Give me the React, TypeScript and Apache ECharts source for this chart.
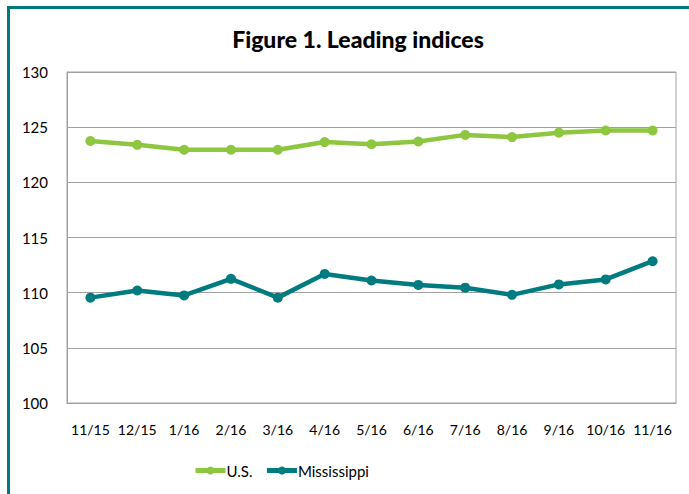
import React, { useEffect, useRef } from "react";
import * as echarts from "echarts";

const categories = ["11/15", "12/15", "1/16", "2/16", "3/16", "4/16", "5/16", "6/16", "7/16", "8/16", "9/16", "10/16", "11/16"];
const usValues = [123.75, 123.4, 122.95, 122.95, 122.95, 123.65, 123.45, 123.7, 124.3, 124.1, 124.5, 124.7, 124.7];
const msValues = [109.55, 110.2, 109.75, 111.25, 109.55, 111.7, 111.1, 110.7, 110.45, 109.8, 110.75, 111.2, 112.85];
const yTicks = [100, 105, 110, 115, 120, 125, 130];

const FONT = "Lato, 'Noto Sans', sans-serif";

export default function App() {
  const ref = useRef<HTMLDivElement>(null);
  useEffect(() => {
    if (!ref.current) return;
    const chart = echarts.init(ref.current, undefined, { renderer: "svg" });
    chart.setOption({
      animation: false,
      backgroundColor: "#ffffff",
      title: {
        text: "Figure 1. Leading indices",
        left: 353,
        top: 22,
        textAlign: "center",
        textStyle: { fontFamily: FONT, fontWeight: 900, fontSize: 23, color: "#000" },
      },
      graphic: [
        { type: "rect", shape: { x: 7, y: 6, width: 682, height: 3 }, style: { fill: "#00797C" } },
        { type: "rect", shape: { x: 7, y: 6, width: 3, height: 488 }, style: { fill: "#00797C" } },
      ],
      legend: {
        left: 188,
        top: 458,
        itemWidth: 30,
        itemHeight: 10,
        itemGap: 12,
        textStyle: { fontFamily: FONT, fontSize: 15, color: "#000", padding: [0, 0, 0, -4] },
        lineStyle: { width: 5 },
        data: ["U.S.", "Mississippi"],
      },
      grid: {
        left: 67,
        top: 72,
        right: 13,
        bottom: 91,
        show: true,
        borderColor: "#a0a0a0",
        borderWidth: 1,
      },
      xAxis: {
        type: "category",
        data: categories,
        boundaryGap: true,
        axisLine: { show: true, lineStyle: { color: "#a0a0a0", width: 1 } },
        axisTick: { show: false },
        axisLabel: { interval: 0, margin: 19, fontFamily: FONT, fontSize: 14, color: "#000" },
      },
      yAxis: {
        type: "value",
        min: yTicks[0],
        max: yTicks[yTicks.length - 1],
        interval: 5,
        axisLine: { show: true, lineStyle: { color: "#a0a0a0", width: 1 } },
        axisTick: { show: false },
        splitLine: { show: true, lineStyle: { color: "#a0a0a0", width: 1 } },
        axisLabel: { margin: 19, fontFamily: FONT, fontSize: 15, color: "#000" },
      },
      series: [
        {
          name: "U.S.",
          type: "line",
          data: usValues,
          symbol: "circle",
          symbolSize: 10,
          lineStyle: { width: 4.5, color: "#8DC63F" },
          itemStyle: { color: "#8DC63F" },
        },
        {
          name: "Mississippi",
          type: "line",
          data: msValues,
          symbol: "circle",
          symbolSize: 10,
          lineStyle: { width: 4.5, color: "#007B7F" },
          itemStyle: { color: "#007B7F" },
        },
      ],
    });
    return () => chart.dispose();
  }, []);
  return (
    <div
      ref={ref}
      style={{ position: "fixed", left: 0, top: 0, width: 689, height: 494 }}
    />
  );
}
